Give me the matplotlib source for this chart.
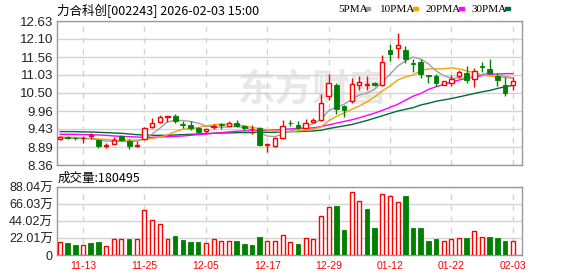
import matplotlib
matplotlib.use("Agg")
import matplotlib.pyplot as plt
import numpy as np
from matplotlib.patches import Rectangle

plt.rcParams['font.family'] = ['Noto Sans CJK SC', 'DejaVu Sans']

# trading days shown on the chart
dates = ["11-10", "11-11", "11-12", "11-13", "11-14", "11-17", "11-18", "11-19", "11-20", "11-21",
         "11-24", "11-25", "11-26", "11-27", "11-28", "12-01", "12-02", "12-03", "12-04", "12-05",
         "12-08", "12-09", "12-10", "12-11", "12-12", "12-15", "12-16", "12-17", "12-18", "12-19",
         "12-22", "12-23", "12-24", "12-25", "12-26", "12-29", "12-30", "12-31", "01-05", "01-06",
         "01-07", "01-08", "01-09", "01-12", "01-13", "01-14", "01-15", "01-16", "01-19", "01-20",
         "01-21", "01-22", "01-23", "01-26", "01-27", "01-28", "01-29", "01-30", "02-02", "02-03"]
label_dates = ["11-13", "11-25", "12-05", "12-17", "12-29", "01-12", "01-22", "02-03"]

opens = [9.13, 9.20, 9.17, 9.15, 9.22, 9.10, 8.92, 8.98, 9.21, 9.07,
         8.93, 9.13, 9.50, 9.63, 9.79, 9.81, 9.58, 9.54, 9.45, 9.37,
         9.50, 9.57, 9.52, 9.62, 9.53, 9.42, 9.45, 8.95, 8.93, 9.15,
         9.61, 9.55, 9.47, 9.64, 9.69, 10.41, 10.73, 10.11, 10.26, 10.73,
         10.74, 10.80, 10.72, 11.77, 11.82, 11.76, 11.37, 11.42, 11.03, 11.00,
         10.73, 10.78, 11.00, 11.10, 10.90, 11.30, 11.20, 11.00, 10.73, 10.72]
highs = [9.21, 9.22, 9.20, 9.22, 9.32, 9.12, 9.00, 9.18, 9.24, 9.12,
         9.06, 9.50, 9.75, 9.85, 9.81, 9.88, 9.65, 9.65, 9.48, 9.44,
         9.58, 9.62, 9.65, 9.68, 9.55, 9.55, 9.50, 8.98, 9.20, 9.68,
         9.68, 9.66, 9.71, 9.76, 10.46, 11.05, 10.80, 10.15, 10.93, 11.00,
         11.00, 10.83, 11.62, 11.94, 12.27, 11.89, 11.49, 11.50, 11.04, 11.07,
         10.86, 11.03, 11.18, 11.30, 11.23, 11.41, 11.50, 11.08, 10.98, 10.98]
lows = [9.10, 9.13, 9.10, 9.02, 9.13, 8.86, 8.86, 8.97, 9.08, 8.83,
        8.88, 9.10, 9.47, 9.61, 9.64, 9.62, 9.47, 9.40, 9.32, 9.32,
        9.43, 9.43, 9.51, 9.49, 9.40, 9.29, 8.93, 8.74, 8.89, 9.12,
        9.53, 9.43, 9.45, 9.61, 9.67, 10.29, 9.88, 9.79, 10.20, 10.58,
        10.59, 10.69, 10.69, 11.45, 11.52, 11.39, 11.13, 10.95, 10.80, 10.69,
        10.72, 10.70, 10.95, 10.80, 10.66, 11.13, 11.05, 10.70, 10.41, 10.59]
closes = [9.18, 9.16, 9.16, 9.16, 9.24, 8.93, 8.94, 9.09, 9.09, 8.93,
          8.96, 9.45, 9.62, 9.78, 9.80, 9.65, 9.56, 9.45, 9.35, 9.42,
          9.52, 9.55, 9.62, 9.53, 9.47, 9.44, 8.96, 8.97, 9.15, 9.53,
          9.60, 9.45, 9.60, 9.70, 10.21, 10.80, 10.01, 9.98, 10.75, 10.83,
          10.76, 10.73, 11.42, 11.66, 11.92, 11.50, 11.36, 11.05, 10.99, 10.80,
          10.85, 10.90, 11.11, 10.88, 11.16, 11.28, 11.10, 10.88, 10.49, 10.84]

ma5 = [9.15, 9.15, 9.15, 9.14, 9.14, 9.10, 9.07, 9.06, 9.06, 9.05,
       9.07, 9.13, 9.28, 9.45, 9.64, 9.68, 9.68, 9.65, 9.60, 9.52,
       9.49, 9.48, 9.49, 9.50, 9.47, 9.40, 9.31, 9.22, 9.20, 9.28,
       9.37, 9.43, 9.52, 9.58, 9.71, 9.97, 10.08, 10.16, 10.30, 10.44,
       10.49, 10.61, 10.82, 11.05, 11.29, 11.45, 11.56, 11.50, 11.36, 11.15,
       11.01, 10.93, 10.94, 10.93, 10.98, 11.05, 11.09, 11.05, 10.99, 10.94]
ma10 = [9.19, 9.18, 9.18, 9.16, 9.15, 9.13, 9.12, 9.10, 9.10, 9.10,
        9.10, 9.13, 9.15, 9.19, 9.25, 9.35, 9.42, 9.44, 9.47, 9.52,
        9.55, 9.57, 9.57, 9.55, 9.52, 9.47, 9.45, 9.40, 9.36, 9.34,
        9.35, 9.37, 9.39, 9.42, 9.49, 9.67, 9.80, 9.90, 10.01, 10.11,
        10.23, 10.38, 10.56, 10.70, 10.88, 10.97, 11.03, 11.16, 11.21, 11.21,
        11.21, 11.24, 11.21, 11.15, 11.10, 11.03, 11.00, 10.98, 10.96, 10.93]
ma20 = [9.27, 9.27, 9.27, 9.26, 9.26, 9.25, 9.24, 9.22, 9.21, 9.20,
        9.19, 9.18, 9.18, 9.19, 9.20, 9.21, 9.22, 9.24, 9.26, 9.28,
        9.30, 9.32, 9.34, 9.36, 9.37, 9.38, 9.39, 9.39, 9.40, 9.41,
        9.43, 9.44, 9.45, 9.46, 9.50, 9.55, 9.60, 9.65, 9.70, 9.76,
        9.83, 9.90, 9.98, 10.07, 10.16, 10.28, 10.40, 10.48, 10.60, 10.68,
        10.75, 10.82, 10.88, 10.93, 10.97, 11.01, 11.04, 11.06, 11.07, 11.07]
ma30 = [9.35, 9.35, 9.35, 9.34, 9.34, 9.33, 9.32, 9.31, 9.30, 9.28,
        9.26, 9.25, 9.24, 9.24, 9.24, 9.25, 9.26, 9.27, 9.28, 9.29,
        9.30, 9.31, 9.31, 9.32, 9.32, 9.32, 9.33, 9.33, 9.33, 9.34,
        9.35, 9.35, 9.36, 9.37, 9.39, 9.44, 9.48, 9.52, 9.56, 9.62,
        9.68, 9.75, 9.82, 9.89, 9.96, 10.01, 10.06, 10.14, 10.19, 10.25,
        10.29, 10.33, 10.38, 10.43, 10.48, 10.53, 10.57, 10.63, 10.68, 10.72]

# volume in 万
volumes = [16.3, 15.0, 12.9, 12.9, 15.5, 16.8, 11.6, 20.2, 20.2, 20.6,
           20.2, 58.0, 44.7, 39.5, 20.2, 24.5, 19.3, 16.8, 16.8, 15.0,
           20.2, 17.6, 17.6, 18.0, 14.2, 12.9, 23.2, 18.0, 17.6, 25.3,
           16.3, 14.2, 21.5, 20.2, 51.1, 62.7, 63.1, 32.2, 82.0, 69.6,
           59.7, 34.8, 79.5, 76.9, 69.1, 76.0, 34.8, 34.8, 18.0, 20.6,
           17.6, 20.6, 21.5, 21.9, 30.5, 23.2, 23.2, 21.9, 18.0, 18.0]
vol_up = [1, 0, 0, 1, 0, 0, 1, 1, 1, 0,
          1, 1, 1, 1, 1, 0, 0, 0, 0, 1,
          1, 1, 1, 0, 0, 0, 0, 1, 1, 1,
          1, 0, 1, 1, 1, 1, 0, 0, 1, 1,
          0, 0, 1, 1, 1, 0, 0, 0, 0, 0,
          1, 1, 1, 0, 1, 1, 0, 0, 0, 1]

price_ticks = [8.36, 8.89, 9.43, 9.96, 10.50, 11.03, 11.56, 12.10, 12.63]
price_labels = ["8.36", "8.89", "9.43", "9.96", "10.50", "11.03", "11.56", "12.10", "12.63"]
vol_ticks = [0, 22.01, 44.02, 66.03, 88.04]
vol_labels = ["0", "22.01万", "44.02万", "66.03万", "88.04万"]

RED = "#ff0000"
GREEN = "#008000"
FRAME = "#999999"
GRID = "#d4d4d4"

x = np.arange(len(dates))
o = np.array(opens)
h = np.array(highs)
l = np.array(lows)
c = np.array(closes)
up = c >= o
label_idx = [dates.index(d) for d in label_dates]

fig = plt.figure(figsize=(5.78, 2.76), dpi=100)
ax = fig.add_axes([57 / 578, 1 - 165 / 276, 465 / 578, 144 / 276])
axv = fig.add_axes([57 / 578, 1 - 255 / 276, 465 / 578, 68 / 276])

for a in (ax, axv):
    a.set_xlim(-0.4, 60.2)
    for s in a.spines.values():
        s.set_color(FRAME)
        s.set_linewidth(1)
    a.set_xticks(label_idx)
    a.grid(axis="x", color=GRID, linestyle=(0, (4, 4)), linewidth=1)
    a.grid(axis="y", color=GRID, linestyle="-", linewidth=1)
    a.set_axisbelow(True)
    a.tick_params(length=0)

# price panel
ax.set_ylim(8.36, 12.63)
ax.set_yticks(price_ticks)
ax.set_yticklabels(price_labels, family="Liberation Sans", fontsize=9.5, color="#222222")
ax.tick_params(axis="y", pad=3)
ax.set_xticklabels([])

# faint watermark
ax.text(0.55, 0.52, "东方财富", transform=ax.transAxes, fontsize=27, fontweight="bold",
        color="#e8e8e8", ha="center", va="center", zorder=0)

ax.plot(x, ma30, color="#006b33", lw=1, zorder=2)
ax.plot(x, ma20, color="#ff00ff", lw=1, zorder=2)
ax.plot(x, ma10, color="#f5a300", lw=1, zorder=2)
ax.plot(x, ma5, color="#a0a0a0", lw=1, zorder=2)

ax.vlines(x, l, h, colors=np.where(up, RED, GREEN), lw=1, zorder=3)
body_lo = np.minimum(o, c)
body_h = np.maximum(np.abs(c - o), 0.004)
ax.bar(x[up], body_h[up], bottom=body_lo[up], width=0.56, facecolor="white",
       edgecolor=RED, linewidth=1, zorder=4)
ax.bar(x[~up], body_h[~up], bottom=body_lo[~up], width=0.62, facecolor=GREEN,
       edgecolor=GREEN, linewidth=0.6, zorder=4)

# volume panel
vu = np.array(vol_up) == 1
v = np.array(volumes)
axv.set_ylim(0, 88.04)
axv.set_yticks(vol_ticks)
axv.set_yticklabels(vol_labels, fontsize=9, color="#222222",
                    family=["Liberation Sans", "Noto Sans CJK SC"])
axv.tick_params(axis="y", pad=3)
axv.set_xticklabels(label_dates, family="Liberation Sans", fontsize=7.5, color=RED)
axv.tick_params(axis="x", pad=4)
axv.bar(x[vu], v[vu], width=0.52, facecolor="white", edgecolor=RED, linewidth=1, zorder=3)
axv.bar(x[~vu], v[~vu], width=0.6, facecolor=GREEN, edgecolor=GREEN, linewidth=0.6, zorder=3)

# header texts
fig.text(57 / 578, 1 - 11 / 276, "力合科创[002243] 2026-02-03 15:00", fontsize=9,
         va="center", ha="left", color="#000000")
fig.text(58 / 578, 1 - 178 / 276, "成交量:180495", fontsize=9, va="center", ha="left",
         color="#000000")

legend_items = [("5PMA", "#a0a0a0", 338), ("10PMA", "#f5a300", 380),
                ("20PMA", "#ff00ff", 426), ("30PMA", "#006b33", 472)]
for name, col, px in legend_items:
    fig.text(px / 578, 1 - 9 / 276, name, fontsize=8, family="Liberation Serif",
             va="center", ha="left", color="#000000")
    sq_x = px + 6.2 * len(name) + 2
    fig.add_artist(Rectangle((sq_x / 578, 1 - 10 / 276), 5 / 578, 3 / 276,
                             transform=fig.transFigure, color=col))

fig.savefig("out.png", dpi=100)
